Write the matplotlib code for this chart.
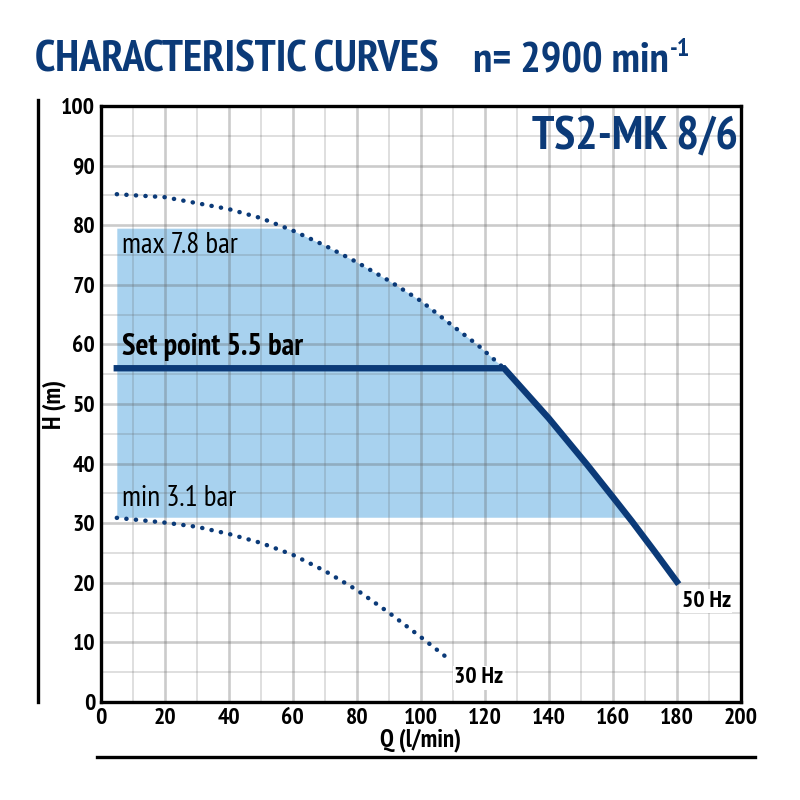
import numpy as np
import matplotlib as mpl
mpl.use('Agg')
import matplotlib.pyplot as plt
from matplotlib.ticker import MultipleLocator

# pump curve 50 Hz
q50 = [5, 20, 40, 50, 60, 70, 80, 90, 100, 110, 118, 126, 133, 140, 146, 152, 160, 166, 173, 180]
h50 = [85.2, 84.7, 82.7, 81.2, 79.1, 76.6, 73.8, 70.7, 67.3, 63.1, 59.8, 56.0, 51.8, 47.6, 43.7, 39.8, 34.4, 30.3, 25.3, 20.2]
# pump curve 30 Hz
q30 = [5, 20, 30, 40, 50, 60, 70, 80, 90, 100, 108.5]
h30 = [30.9, 30.1, 29.4, 28.2, 26.7, 24.7, 22.0, 18.8, 15.0, 10.9, 7.3]

q_start = 5
h_max = 79.5      # max 7.8 bar
h_min = 31.0      # min 3.1 bar
h_set = 56.0      # set point 5.5 bar

navy = '#0b3a78'
fam = ['PT Sans Narrow', 'Fira Sans Condensed', 'Roboto Condensed', 'Liberation Sans Narrow', 'DejaVu Sans']
plt.rcParams['font.family'] = fam

fig = plt.figure(figsize=(8, 8), dpi=100)
ax = fig.add_axes([0.126, 0.1225, 0.8, 0.745])

q50a = np.array(q50)
h50a = np.array(h50)
q_corner = np.interp(-h_set, -h50a, q50a)

# shaded working area
qq = np.linspace(q_start, 180, 600)
upper = np.minimum(np.interp(qq, q50a, h50a), h_max)
ax.fill_between(qq, h_min, upper, where=upper >= h_min, color='#a8d2ef', lw=0, zorder=1)

# dotted part of 50 Hz curve (above set point)
m = q50a <= q_corner
ax.plot(q50a[m], h50a[m], color=navy, lw=3.2,
        ls=(0, (0.05, 2.1)), dash_capstyle='round', zorder=4)
# solid part: set point line then curve
ax.plot(np.concatenate([[q_start, q_corner], q50a[q50a > q_corner]]),
        np.concatenate([[h_set, h_set], h50a[q50a > q_corner]]),
        color=navy, lw=4.6, solid_joinstyle='miter', zorder=5)
# 30 Hz
ax.plot(q30, h30, color=navy, lw=3.2, ls=(0, (0.05, 2.1)), dash_capstyle='round', zorder=4)

ax.set_xlim(0, 200)
ax.set_ylim(0, 100)
ax.xaxis.set_major_locator(MultipleLocator(20))
ax.xaxis.set_minor_locator(MultipleLocator(10))
ax.yaxis.set_major_locator(MultipleLocator(10))
ax.yaxis.set_minor_locator(MultipleLocator(5))
ax.grid(which='major', color='#606060', alpha=0.32, lw=1.9, zorder=2)
ax.grid(which='minor', color='#606060', alpha=0.24, lw=1.2, zorder=2)
ax.set_axisbelow(False)
for gl in ax.get_xgridlines() + ax.get_ygridlines():
    gl.set_zorder(2)
ax.tick_params(which='both', length=0, pad=4)
ax.tick_params(labelsize=17)
for lab in ax.get_xticklabels() + ax.get_yticklabels():
    lab.set_fontweight('bold')
for sp in ax.spines.values():
    sp.set_linewidth(2.4)
    sp.set_zorder(6)

ax.set_xlabel('Q (l/min)', fontsize=18, fontweight='bold', labelpad=0)
ax.set_ylabel('H (m)', fontsize=18, fontweight='bold')
ax.yaxis.set_label_coords(-0.054, 0.5)

ax.text(q_start + 1.5, h_max - 0.6, 'max 7.8 bar', fontsize=21, va='top', ha='left', zorder=7)
ax.text(q_start + 1.5, h_min + 0.8, 'min 3.1 bar', fontsize=21, va='bottom', ha='left', zorder=7)
ax.text(q_start + 1.5, h_set + 1.2, 'Set point 5.5 bar', fontsize=22, fontweight='bold',
        va='bottom', ha='left', zorder=7)
ax.text(q50[-1] + 1.5, h50[-1] - 1.5, '50 Hz', fontsize=17, fontweight='bold', va='top', ha='left',
        zorder=7, bbox=dict(facecolor='white', edgecolor='none', pad=1))
ax.text(q30[-1] + 2, h30[-1] - 1.5, '30 Hz', fontsize=17, fontweight='bold', va='top', ha='left',
        zorder=7, bbox=dict(facecolor='white', edgecolor='none', pad=1))
ax.text(0.996, 0.983, 'TS2-MK 8/6', transform=ax.transAxes, fontsize=34, fontweight='bold',
        color=navy, ha='right', va='top', zorder=7)

# title
fig.text(0.044, 0.91, 'CHARACTERISTIC CURVES', fontsize=32, fontweight='bold', color=navy,
         ha='left', va='baseline')
fig.text(0.836, 0.91, 'n= 2900 min', fontsize=31, fontweight='bold', color=navy,
         ha='right', va='baseline')
fig.text(0.837, 0.93, '-1', fontsize=19, fontweight='bold', color=navy, ha='left', va='baseline')

# decorative frame lines
fig.add_artist(plt.Line2D([0.048, 0.048], [0.122, 0.875], color='black', lw=2.4))
fig.add_artist(plt.Line2D([0.121, 0.944], [0.054, 0.054], color='black', lw=2.4))

fig.savefig('out.png', dpi=100)
